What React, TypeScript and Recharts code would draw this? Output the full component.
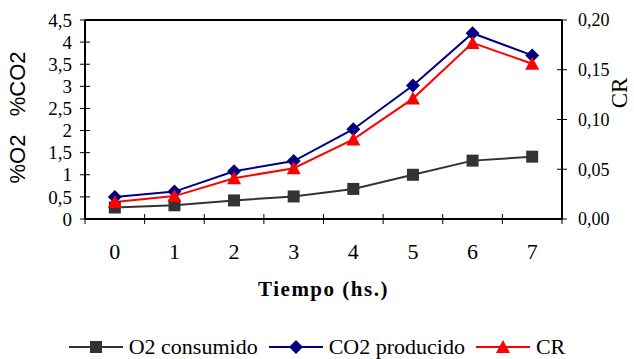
import React from 'react';
import { LineChart, Line, XAxis, YAxis, Legend, ReferenceLine, Label } from 'recharts';

// Tiempo (hs.) y concentraciones medidas
const horas = [0, 1, 2, 3, 4, 5, 6, 7];
const o2Consumido = [0.26, 0.31, 0.42, 0.51, 0.68, 1.0, 1.32, 1.41];
const co2Producido = [0.5, 0.62, 1.08, 1.31, 2.03, 3.02, 4.2, 3.7];
const cociente = [0.017, 0.023, 0.041, 0.051, 0.08, 0.121, 0.177, 0.156];

const ticksPorcentaje = [0, 0.5, 1, 1.5, 2, 2.5, 3, 3.5, 4, 4.5];
const ticksCR = [0, 0.05, 0.1, 0.15, 0.2];

const data = horas.map((h, i) => ({
  h,
  o2: o2Consumido[i],
  co2: co2Producido[i],
  cr: cociente[i],
}));

const ANCHO = 634;
const ALTO = 359;
const EJE_IZQ = 85;
const EJE_DER = 72;
const PASO = (ANCHO - EJE_IZQ - EJE_DER) / horas.length;
const SERIF = 'Liberation Serif, Times New Roman, serif';
const SANS = 'Liberation Sans, Arial, sans-serif';

const GRIS = '#333333';
const AZUL = '#000080';
const ROJO = '#ff0000';

const coma = (v: number, d: number) => v.toFixed(d).replace('.', ',');
const fmtPorcentaje = (v: number) => (Number.isInteger(v) ? String(v) : coma(v, 1));

const Cuadrado = ({ cx, cy }: any) => (
  <rect x={cx - 6} y={cy - 6} width={12} height={12} fill={GRIS} />
);
const Rombo = ({ cx, cy }: any) => (
  <polygon points={`${cx},${cy - 7} ${cx + 7},${cy} ${cx},${cy + 7} ${cx - 7},${cy}`} fill={AZUL} />
);
const Triangulo = ({ cx, cy }: any) => (
  <polygon points={`${cx},${cy - 7} ${cx + 7},${cy + 6} ${cx - 7},${cy + 6}`} fill={ROJO} />
);

// orden de la leyenda
const series = [
  { key: 'o2', nombre: 'O2 consumido', color: GRIS, Marca: Cuadrado },
  { key: 'co2', nombre: 'CO2 producido', color: AZUL, Marca: Rombo },
  { key: 'cr', nombre: 'CR', color: ROJO, Marca: Triangulo },
];

// ticks que cruzan el eje, como en la planilla
const TickIzq = ({ x, y, payload }: any) => {
  const eje = x + 13;
  return (
    <g>
      <line x1={eje - 5} x2={eje + 5} y1={y} y2={y} stroke="#000" />
      <text x={x} y={y} dy="0.35em" textAnchor="end" fontFamily={SERIF} fontSize={19} fill="#000">
        {fmtPorcentaje(payload.value)}
      </text>
    </g>
  );
};

const TickDer = ({ x, y, payload }: any) => {
  const eje = x - 16;
  return (
    <g>
      <line x1={eje - 5} x2={eje + 5} y1={y} y2={y} stroke="#000" />
      <text x={x} y={y} dy="0.35em" textAnchor="start" fontFamily={SERIF} fontSize={18} fill="#000">
        {coma(payload.value, 2)}
      </text>
    </g>
  );
};

const TickAbajo = ({ x, y, payload, index }: any) => {
  const izq = x - PASO / 2;
  const der = x + PASO / 2;
  return (
    <g>
      <line x1={izq} x2={izq} y1={y - 5} y2={y + 5} stroke="#000" />
      {index === horas.length - 1 && <line x1={der} x2={der} y1={y - 5} y2={y + 5} stroke="#000" />}
      <text x={x} y={y + 32} dy="0.35em" textAnchor="middle" fontFamily={SERIF} fontSize={22} fill="#000">
        {payload.value}
      </text>
    </g>
  );
};

const Leyenda = () => (
  <div
    style={{
      display: 'flex',
      justifyContent: 'center',
      alignItems: 'center',
      gap: 11,
      fontFamily: SERIF,
      fontSize: 22,
      lineHeight: '24px',
      color: '#000',
    }}
  >
    {series.map(({ key, nombre, color, Marca }) => (
      <span key={key} style={{ display: 'flex', alignItems: 'center' }}>
        <svg width={54} height={16}>
          <line x1={0} x2={54} y1={8} y2={8} stroke={color} strokeWidth={2} />
          <Marca cx={27} cy={8} />
        </svg>
        <span style={{ marginLeft: 6 }}>{nombre}</span>
      </span>
    ))}
  </div>
);

export default function App() {
  return (
    <div style={{ position: 'absolute', left: 0, top: 0, background: '#fff' }}>
      <LineChart width={ANCHO} height={ALTO} data={data} margin={{ top: 20, right: 0, bottom: 16, left: 0 }}>
        <XAxis
          dataKey="h"
          type="number"
          domain={[-0.5, 7.5]}
          ticks={horas}
          height={100}
          tickLine={false}
          tickSize={0}
          tickMargin={0}
          tick={<TickAbajo />}
          axisLine={{ stroke: '#000', strokeWidth: 2 }}
          interval={0}
        >
          <Label
            content={({ viewBox }: any) => (
              <text
                x={viewBox.x + viewBox.width / 2}
                y={viewBox.y + 77}
                textAnchor="middle"
                fontFamily={SERIF}
                letterSpacing={1.5}
                fontWeight="bold"
                fontSize={21}
                fill="#000"
              >
                Tiempo (hs.)
              </text>
            )}
          />
        </XAxis>
        <YAxis
          yAxisId="izq"
          width={EJE_IZQ}
          domain={[0, 4.5]}
          ticks={ticksPorcentaje}
          interval={0}
          tickLine={false}
          tickSize={0}
          tickMargin={13}
          tick={<TickIzq />}
          axisLine={{ stroke: '#000', strokeWidth: 2 }}
        >
          <Label
            content={({ viewBox }: any) => {
              const cx = 17.5;
              const cy = viewBox.y + viewBox.height / 2 - 2;
              return (
                <text
                  x={cx}
                  y={cy}
                  transform={`rotate(-90 ${cx} ${cy})`}
                  textAnchor="middle"
                  dominantBaseline="central"
                  fontSize={22}
                  fill="#000"
                  fontFamily={SANS}
                  style={{ whiteSpace: 'pre' }}
                >
                  {'%O2   %CO2'}
                </text>
              );
            }}
          />
        </YAxis>
        <YAxis
          yAxisId="der"
          orientation="right"
          width={EJE_DER}
          domain={[0, 0.2]}
          ticks={ticksCR}
          interval={0}
          tickLine={false}
          tickSize={0}
          tickMargin={16}
          tick={<TickDer />}
          axisLine={{ stroke: '#000', strokeWidth: 2 }}
        >
          <Label
            content={({ viewBox }: any) => {
              const cx = viewBox.x + 57;
              const cy = 93;
              return (
                <text
                  x={cx}
                  y={cy}
                  transform={`rotate(-90 ${cx} ${cy})`}
                  textAnchor="middle"
                  dominantBaseline="central"
                  fontFamily={SERIF}
                  fontSize={23}
                  fill="#000"
                >
                  CR
                </text>
              );
            }}
          />
        </YAxis>
        <ReferenceLine yAxisId="izq" y={4.5} stroke="#000" strokeWidth={2} />
        <Legend
          content={<Leyenda />}
          verticalAlign="bottom"
          height={24}
          wrapperStyle={{ top: 335, bottom: 'auto', left: 0, width: ANCHO }}
        />
        <Line
          yAxisId="izq"
          dataKey="o2"
          name="O2 consumido"
          stroke={GRIS}
          strokeWidth={2}
          isAnimationActive={false}
          dot={(p: any) => <Cuadrado key={`o2-${p.index}`} cx={p.cx} cy={p.cy} />}
        />
        <Line
          yAxisId="izq"
          dataKey="co2"
          name="CO2 producido"
          stroke={AZUL}
          strokeWidth={2}
          isAnimationActive={false}
          dot={(p: any) => <Rombo key={`co2-${p.index}`} cx={p.cx} cy={p.cy} />}
        />
        <Line
          yAxisId="der"
          dataKey="cr"
          name="CR"
          stroke={ROJO}
          strokeWidth={2}
          isAnimationActive={false}
          dot={(p: any) => <Triangulo key={`cr-${p.index}`} cx={p.cx} cy={p.cy} />}
        />
      </LineChart>
    </div>
  );
}
